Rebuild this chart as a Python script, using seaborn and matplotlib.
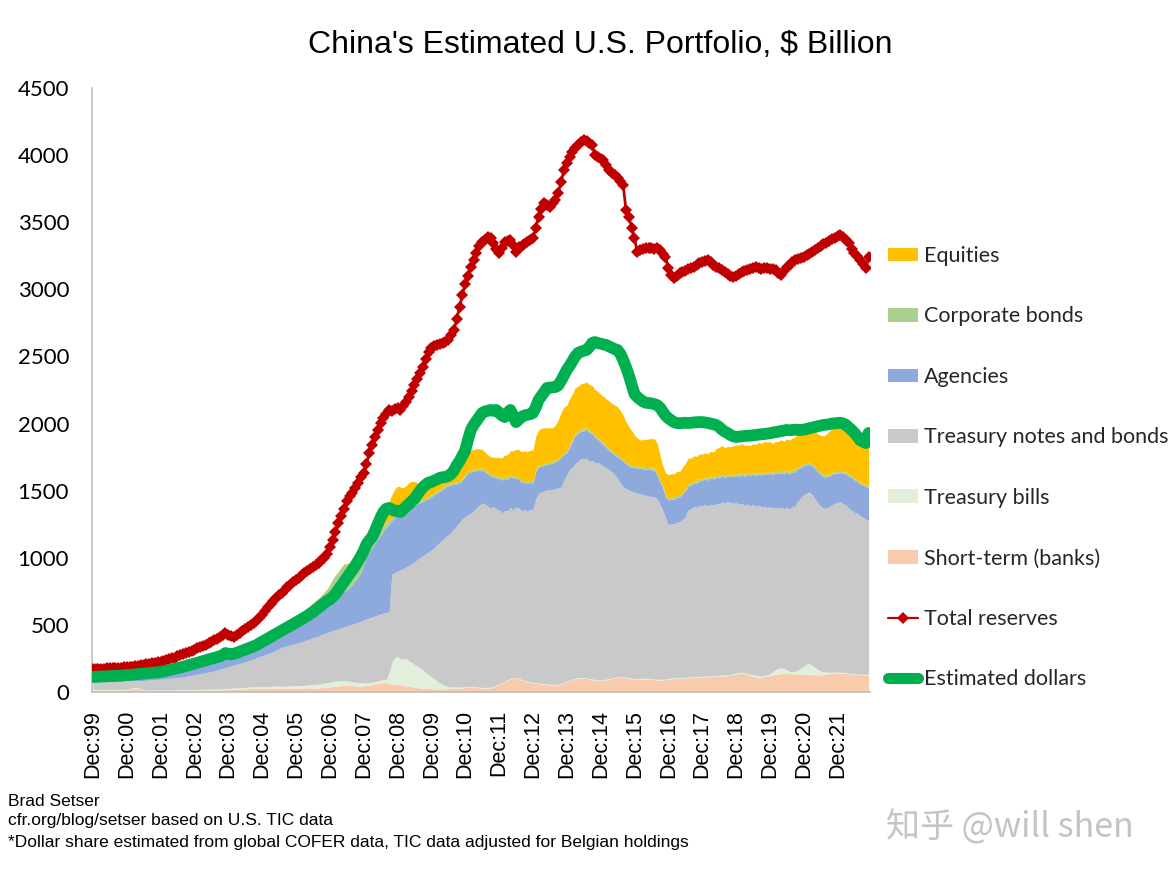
import numpy as np
import matplotlib
matplotlib.use("Agg")
import matplotlib.pyplot as plt
import seaborn as sns
from matplotlib.patches import Patch
from matplotlib.lines import Line2D

# Monthly data, Dec 1999 .. Nov 2022 ($ billion), rows of 12 months
short_term = [
    12, 12, 13, 12, 13, 14, 13, 12, 12, 13, 14, 15,
    16, 18, 24, 30, 26, 18, 14, 12, 11, 12, 12, 13,
    13, 12, 12, 13, 12, 12, 13, 13, 12, 12, 12, 13,
    13, 14, 13, 14, 15, 14, 15, 16, 15, 16, 17, 18,
    18, 19, 20, 22, 21, 23, 24, 26, 25, 27, 28, 29,
    30, 28, 27, 29, 30, 31, 30, 28, 27, 29, 30, 31,
    30, 29, 28, 30, 32, 31, 30, 29, 30, 32, 34, 36,
    38, 40, 42, 45, 48, 50, 52, 50, 48, 46, 45, 44,
    46, 48, 52, 56, 60, 64, 68, 70, 66, 62, 60, 58,
    55, 52, 48, 45, 42, 40, 36, 32, 30, 28, 26, 25,
    24, 23, 22, 22, 23, 24, 25, 26, 27, 28, 30, 32,
    34, 36, 37, 35, 33, 31, 30, 29, 30, 32, 38, 48,
    58, 67, 78, 88, 96, 102, 104, 98, 90, 82, 76, 72,
    68, 67, 64, 60, 58, 56, 54, 52, 52, 55, 60, 68,
    76, 84, 92, 98, 102, 104, 104, 100, 96, 92, 90, 89,
    88, 89, 92, 96, 100, 104, 108, 112, 110, 106, 102, 98,
    97, 96, 95, 96, 98, 96, 94, 92, 90, 89, 90, 92,
    95, 98, 100, 102, 103, 104, 105, 106, 108, 110, 111, 112,
    112, 113, 114, 115, 116, 117, 118, 119, 120, 122, 125, 130,
    134, 138, 141, 136, 130, 124, 118, 114, 112, 112, 114, 118,
    122, 126, 130, 134, 138, 141, 139, 137, 136, 135, 134, 134,
    133, 132, 130, 129, 128, 127, 128, 130, 133, 136, 138, 140,
    141, 141, 140, 138, 136, 134, 132, 130, 129, 128, 127, 127,
]

treasury_bills = [
    8, 8, 7, 7, 6, 6, 5, 5, 5, 5, 5, 5,
    5, 5, 5, 6, 6, 5, 5, 4, 4, 4, 4, 4,
    4, 4, 4, 4, 4, 4, 5, 5, 5, 5, 5, 5,
    5, 6, 6, 6, 6, 6, 6, 7, 7, 7, 8, 8,
    8, 8, 9, 9, 10, 10, 10, 11, 11, 12, 12, 12,
    12, 13, 13, 14, 14, 15, 15, 15, 16, 16, 16, 17,
    17, 18, 18, 19, 20, 22, 24, 26, 28, 30, 32, 34,
    36, 38, 40, 38, 36, 34, 32, 30, 28, 26, 25, 24,
    22, 20, 18, 18, 18, 18, 20, 22, 30, 80, 160, 200,
    210, 195, 200, 205, 190, 180, 170, 160, 150, 135, 120, 105,
    90, 75, 60, 45, 32, 22, 15, 12, 10, 8, 7, 6,
    6, 6, 5, 5, 5, 5, 5, 4, 4, 4, 4, 4,
    4, 4, 4, 4, 4, 4, 4, 4, 4, 4, 4, 4,
    4, 4, 4, 4, 4, 4, 4, 4, 4, 4, 4, 4,
    4, 4, 4, 4, 4, 4, 4, 4, 4, 4, 4, 4,
    4, 4, 4, 4, 4, 4, 4, 4, 4, 4, 4, 4,
    4, 4, 4, 5, 5, 5, 5, 5, 5, 5, 5, 5,
    5, 5, 5, 5, 5, 5, 5, 5, 5, 5, 5, 5,
    5, 5, 5, 5, 5, 6, 6, 6, 6, 6, 6, 6,
    6, 6, 6, 6, 6, 8, 10, 12, 10, 8, 8, 10,
    15, 25, 35, 45, 42, 35, 25, 18, 15, 20, 30, 45,
    60, 75, 82, 70, 55, 40, 28, 20, 15, 12, 10, 8,
    7, 6, 6, 6, 5, 5, 5, 5, 5, 5, 5, 5,
]

treasury_notes = [
    55, 56, 56, 58, 58, 58, 60, 62, 62, 62, 61, 61,
    61, 59, 54, 48, 52, 62, 67, 72, 74, 74, 76, 77,
    79, 82, 84, 85, 88, 90, 90, 92, 95, 99, 103, 106,
    110, 112, 117, 120, 123, 128, 131, 135, 142, 147, 151, 156,
    162, 167, 171, 175, 181, 185, 191, 195, 202, 207, 214, 221,
    228, 237, 246, 251, 258, 266, 277, 292, 297, 300, 304, 308,
    315, 321, 328, 331, 336, 343, 350, 355, 360, 364, 368, 372,
    376, 380, 382, 387, 394, 402, 408, 419, 429, 440, 450, 460,
    468, 476, 482, 485, 488, 492, 493, 496, 496, 454, 660, 629,
    635, 663, 672, 680, 713, 738, 764, 793, 820, 852, 884, 915,
    944, 977, 1013, 1048, 1080, 1109, 1130, 1152, 1178, 1204, 1228, 1252,
    1265, 1278, 1291, 1310, 1332, 1354, 1373, 1367, 1351, 1334, 1338, 1313,
    1294, 1262, 1270, 1258, 1275, 1252, 1268, 1270, 1258, 1272, 1265, 1284,
    1284, 1369, 1415, 1426, 1436, 1445, 1447, 1454, 1459, 1461, 1463, 1508,
    1540, 1572, 1580, 1602, 1610, 1632, 1628, 1638, 1620, 1630, 1612, 1618,
    1603, 1592, 1574, 1555, 1535, 1512, 1478, 1444, 1413, 1405, 1399, 1393,
    1389, 1383, 1379, 1371, 1362, 1359, 1356, 1356, 1345, 1306, 1261, 1203,
    1144, 1152, 1146, 1158, 1160, 1178, 1196, 1245, 1252, 1268, 1260, 1274,
    1271, 1278, 1268, 1280, 1270, 1282, 1276, 1290, 1280, 1292, 1282, 1272,
    1270, 1255, 1258, 1250, 1265, 1256, 1268, 1258, 1270, 1260, 1262, 1246,
    1242, 1220, 1212, 1190, 1196, 1190, 1212, 1210, 1230, 1232, 1262, 1268,
    1277, 1273, 1278, 1271, 1257, 1243, 1229, 1221, 1223, 1232, 1247, 1257,
    1262, 1272, 1255, 1250, 1225, 1215, 1200, 1198, 1178, 1170, 1155, 1149,
]

agencies = [
    25, 25, 26, 26, 27, 27, 28, 28, 29, 29, 30, 30,
    30, 31, 31, 32, 34, 35, 36, 36, 37, 38, 38, 38,
    39, 41, 43, 46, 48, 51, 54, 57, 60, 62, 64, 66,
    68, 70, 72, 74, 76, 78, 80, 80, 80, 80, 82, 93,
    82, 74, 74, 76, 78, 80, 81, 82, 84, 84, 84, 86,
    90, 94, 98, 102, 106, 108, 110, 109, 116, 123, 130, 136,
    142, 148, 154, 160, 164, 169, 174, 180, 185, 191, 198, 206,
    220, 242, 251, 255, 262, 266, 268, 281, 295, 318, 340, 359,
    414, 462, 488, 521, 544, 566, 589, 612, 637, 654, 395, 413,
    420, 420, 420, 420, 417, 420, 420, 415, 410, 405, 400, 397,
    395, 393, 387, 381, 375, 372, 365, 352, 333, 312, 292, 290,
    300, 312, 307, 295, 280, 264, 246, 240, 240, 240, 222, 231,
    234, 246, 240, 235, 231, 235, 218, 212, 210, 207, 207, 201,
    201, 200, 193, 192, 190, 189, 195, 196, 200, 208, 223, 190,
    160, 166, 190, 210, 210, 205, 209, 215, 212, 200, 188, 171,
    165, 155, 150, 145, 141, 145, 161, 175, 193, 185, 175, 181,
    182, 185, 187, 190, 195, 198, 201, 201, 180, 160, 171, 150,
    186, 182, 185, 187, 183, 189, 190, 180, 174, 177, 180, 184,
    187, 190, 192, 195, 196, 196, 196, 194, 192, 192, 192, 198,
    203, 208, 213, 216, 219, 223, 226, 229, 232, 236, 242, 246,
    249, 252, 255, 257, 259, 260, 260, 261, 259, 255, 240, 225,
    215, 211, 205, 215, 225, 230, 235, 234, 231, 230, 225, 223,
    220, 216, 225, 232, 240, 245, 239, 235, 237, 240, 242, 246,
]

corporate_bonds = [
    3, 3, 3, 3, 3, 3, 3, 3, 3, 3, 3, 3,
    3, 3, 4, 4, 4, 4, 4, 4, 4, 4, 5, 5,
    5, 5, 5, 5, 6, 6, 6, 6, 6, 7, 7, 7,
    7, 7, 8, 8, 8, 8, 9, 9, 9, 9, 10, 10,
    10, 10, 11, 11, 12, 12, 12, 13, 13, 14, 14, 15,
    15, 17, 19, 21, 23, 25, 28, 31, 34, 38, 42, 46,
    50, 55, 60, 66, 72, 78, 84, 90, 96, 102, 110, 118,
    128, 140, 155, 170, 185, 200, 195, 180, 160, 140, 120, 100,
    90, 80, 70, 60, 50, 45, 40, 35, 30, 28, 26, 25,
    24, 23, 22, 21, 20, 20, 19, 19, 18, 18, 17, 17,
    16, 16, 16, 15, 15, 15, 15, 14, 14, 14, 14, 14,
    13, 14, 13, 13, 12, 13, 14, 13, 13, 12, 13, 13,
    13, 14, 13, 13, 12, 13, 14, 13, 13, 12, 13, 13,
    13, 14, 13, 13, 12, 13, 14, 13, 13, 12, 13, 13,
    13, 14, 13, 13, 12, 13, 14, 13, 13, 12, 13, 13,
    13, 14, 13, 13, 12, 13, 14, 13, 13, 12, 13, 13,
    13, 14, 13, 13, 12, 13, 14, 13, 13, 12, 13, 13,
    13, 14, 13, 13, 12, 13, 14, 13, 13, 12, 13, 13,
    13, 14, 13, 13, 12, 13, 14, 13, 13, 12, 13, 13,
    13, 14, 13, 13, 12, 13, 14, 13, 13, 12, 13, 13,
    13, 14, 13, 13, 12, 13, 14, 13, 13, 12, 13, 13,
    13, 14, 13, 13, 12, 13, 14, 13, 13, 12, 13, 13,
    13, 14, 13, 13, 12, 13, 14, 13, 13, 12, 13, 13,
]

equities = [
    1, 1, 1, 1, 1, 1, 1, 1, 1, 1, 1, 1,
    1, 1, 1, 1, 1, 1, 1, 1, 1, 1, 1, 1,
    1, 1, 1, 1, 1, 1, 1, 1, 1, 1, 1, 1,
    1, 1, 1, 1, 1, 1, 2, 2, 2, 2, 2, 2,
    2, 2, 2, 2, 2, 2, 2, 2, 2, 2, 2, 2,
    2, 2, 2, 2, 3, 3, 3, 3, 3, 3, 3, 3,
    3, 3, 3, 3, 3, 3, 3, 3, 3, 3, 3, 3,
    3, 3, 3, 3, 4, 4, 4, 4, 4, 4, 4, 4,
    4, 5, 6, 8, 12, 20, 40, 70, 110, 140, 170, 185,
    190, 175, 160, 165, 178, 172, 160, 140, 120, 110, 100, 95,
    92, 90, 90, 92, 95, 98, 100, 105, 110, 115, 120, 125,
    130, 140, 145, 150, 150, 145, 140, 135, 130, 130, 135, 140,
    145, 150, 160, 170, 180, 190, 200, 210, 215, 220, 225, 228,
    230, 250, 262, 270, 268, 262, 255, 250, 262, 290, 320, 340,
    342, 345, 342, 340, 340, 338, 340, 342, 344, 345, 346, 345,
    345, 348, 352, 355, 358, 360, 360, 350, 330, 300, 285, 260,
    230, 210, 200, 205, 210, 215, 218, 220, 222, 200, 150, 170,
    175, 175, 176, 178, 180, 185, 190, 193, 190, 188, 186, 185,
    184, 183, 183, 185, 190, 200, 212, 215, 210, 205, 210, 215,
    215, 218, 220, 215, 210, 212, 215, 218, 222, 225, 228, 230,
    225, 215, 220, 228, 232, 230, 235, 238, 240, 245, 250, 255,
    255, 250, 248, 255, 262, 270, 280, 290, 305, 320, 330, 335,
    340, 345, 335, 320, 305, 290, 285, 290, 295, 290, 285, 295,
]

total_reserves = [
    172, 172, 173, 174, 175, 176, 177, 178, 179, 180, 181, 183,
    184, 186, 189, 192, 196, 199, 203, 207, 210, 213, 217, 220,
    224, 230, 236, 243, 250, 257, 265, 273, 281, 290, 298, 306,
    315, 325, 334, 344, 352, 362, 372, 384, 396, 408, 425, 440,
    428, 415, 410, 425, 440, 455, 470, 483, 497, 514, 530, 548,
    570, 600, 633, 655, 680, 700, 720, 740, 760, 782, 800, 818,
    836, 852, 868, 884, 900, 915, 930, 946, 962, 980, 1000, 1030,
    1080, 1130, 1190, 1259, 1310, 1365, 1420, 1460, 1483, 1520, 1560, 1600,
    1632, 1700, 1781, 1840, 1900, 1950, 2004, 2040, 2070, 2100, 2090, 2110,
    2116, 2100, 2130, 2160, 2198, 2240, 2290, 2330, 2377, 2420, 2480, 2530,
    2560, 2575, 2585, 2590, 2600, 2610, 2622, 2660, 2697, 2780, 2868, 2960,
    3040, 3100, 3166, 3220, 3270, 3320, 3352, 3370, 3390, 3382, 3345, 3300,
    3270, 3310, 3352, 3360, 3367, 3330, 3278, 3315, 3320, 3335, 3352, 3370,
    3380, 3460, 3540, 3600, 3643, 3630, 3613, 3640, 3665, 3720, 3800, 3889,
    3940, 3986, 4020, 4050, 4075, 4095, 4112, 4105, 4090, 4075, 4000, 3985,
    3970, 3963, 3930, 3889, 3870, 3852, 3830, 3810, 3777, 3591, 3539, 3460,
    3382, 3278, 3290, 3300, 3308, 3310, 3305, 3300, 3308, 3290, 3265, 3241,
    3159, 3110, 3084, 3100, 3122, 3130, 3140, 3150, 3159, 3170, 3185, 3196,
    3205, 3212, 3218, 3200, 3181, 3170, 3160, 3144, 3130, 3115, 3100, 3092,
    3100, 3115, 3129, 3135, 3145, 3150, 3160, 3166, 3160, 3155, 3162, 3159,
    3150, 3148, 3144, 3120, 3107, 3140, 3165, 3185, 3204, 3215, 3225, 3235,
    3241, 3255, 3265, 3278, 3290, 3305, 3320, 3335, 3345, 3360, 3372, 3385,
    3395, 3405, 3390, 3370, 3345, 3300, 3270, 3245, 3218, 3190, 3160, 3240,
]

estimated_dollars = [
    112, 113, 114, 115, 116, 117, 118, 119, 120, 121, 122, 124,
    126, 127, 129, 131, 133, 135, 137, 139, 141, 143, 145, 147,
    149, 153, 158, 163, 168, 173, 178, 183, 188, 194, 200, 206,
    212, 218, 224, 230, 236, 242, 248, 254, 260, 266, 274, 290,
    285, 280, 285, 292, 300, 308, 316, 324, 332, 341, 350, 362,
    374, 386, 398, 410, 422, 434, 446, 458, 470, 482, 494, 506,
    518, 530, 542, 555, 568, 582, 596, 612, 628, 645, 662, 678,
    690, 708, 730, 760, 790, 820, 850, 880, 909, 940, 975, 1010,
    1050, 1100, 1130, 1155, 1200, 1250, 1300, 1340, 1365, 1371, 1360, 1350,
    1350, 1341, 1360, 1380, 1400, 1420, 1440, 1470, 1500, 1525, 1545, 1560,
    1565, 1575, 1585, 1595, 1600, 1602, 1610, 1625, 1650, 1690, 1720, 1760,
    1800, 1880, 1952, 1990, 2020, 2050, 2079, 2090, 2095, 2101, 2095, 2101,
    2080, 2060, 2049, 2080, 2101, 2060, 2011, 2030, 2049, 2060, 2065, 2070,
    2079, 2120, 2175, 2205, 2235, 2265, 2268, 2270, 2272, 2285, 2320, 2360,
    2399, 2430, 2465, 2500, 2526, 2535, 2542, 2548, 2570, 2600, 2607, 2600,
    2595, 2590, 2585, 2575, 2565, 2555, 2548, 2520, 2473, 2420, 2360, 2290,
    2220, 2198, 2180, 2165, 2155, 2153, 2150, 2145, 2138, 2120, 2090, 2060,
    2040, 2025, 2010, 2004, 2002, 2004, 2006, 2004, 2006, 2008, 2010, 2011,
    2011, 2008, 2004, 2000, 1995, 1989, 1975, 1955, 1940, 1930, 1915, 1905,
    1900, 1902, 1905, 1907, 1909, 1910, 1912, 1915, 1918, 1920, 1922, 1925,
    1928, 1932, 1936, 1940, 1944, 1948, 1952, 1950, 1952, 1955, 1952, 1952,
    1955, 1960, 1965, 1970, 1975, 1980, 1985, 1989, 1992, 1995, 2000, 2002,
    2004, 2006, 2000, 1990, 1970, 1952, 1930, 1905, 1877, 1865, 1855, 1930,
]

tick_labels = ["Dec:99", "Dec:00", "Dec:01", "Dec:02", "Dec:03", "Dec:04",
               "Dec:05", "Dec:06", "Dec:07", "Dec:08", "Dec:09", "Dec:10",
               "Dec:11", "Dec:12", "Dec:13", "Dec:14", "Dec:15", "Dec:16",
               "Dec:17", "Dec:18", "Dec:19", "Dec:20", "Dec:21"]

area_labels = ["Short-term (banks)", "Treasury bills", "Treasury notes and bonds",
               "Agencies", "Corporate bonds", "Equities"]
area_colors = ["#F8CBAD", "#E2EFDA", "#C9C9C9", "#8EA9DB", "#A9D08E", "#FFC000"]

sns.set_theme(style="white")
plt.rcParams["font.family"] = ["Liberation Sans", "DejaVu Sans"]

W, H = 1170, 873
fig = plt.figure(figsize=(W / 100, H / 100), dpi=100)
ax = fig.add_axes([92 / W, 1 - 692 / H, 778 / W, 604 / H])

x = np.arange(len(short_term))
ax.stackplot(x, short_term, treasury_bills, treasury_notes, agencies,
             corporate_bonds, equities, colors=area_colors, linewidth=0,
             zorder=1)

sns.lineplot(x=x, y=total_reserves, ax=ax, color="#C00000", linewidth=2.0,
             marker="D", markersize=6.5, markeredgewidth=0, legend=False,
             zorder=4)
sns.lineplot(x=x, y=estimated_dollars, ax=ax, color="#00B050", linewidth=8.5,
             solid_capstyle="round", solid_joinstyle="round", legend=False,
             zorder=5)

ax.set_xlim(-0.3, 275.5)
ax.set_ylim(0, 4500)
ax.set_yticks(np.arange(0, 4501, 500))
ax.set_yticklabels([str(v) for v in range(0, 4501, 500)],
                   fontfamily="Lato", fontsize=16, color="#000000")
ax.set_xticks(np.arange(0, len(tick_labels) * 12, 12))
ax.set_xticklabels(tick_labels, rotation=90, fontsize=15.5,
                   fontfamily="Liberation Sans", color="#000000")
ax.tick_params(axis="y", length=0, pad=16.5)
ax.tick_params(axis="x", length=0, pad=13)
ax.set_xlabel("")
ax.set_ylabel("")
ax.grid(False)
for side in ["top", "right"]:
    ax.spines[side].set_visible(False)
for side in ["left", "bottom"]:
    ax.spines[side].set_color("#BFBFBF")
    ax.spines[side].set_linewidth(1.2)

fig.text(600 / W, 1 - 45 / H, "China's Estimated U.S. Portfolio, $ Billion",
         ha="center", va="center", fontsize=23, fontfamily="Liberation Sans",
         color="#000000")

handles = [Patch(facecolor=area_colors[i], edgecolor="none") for i in range(5, -1, -1)]
labels = [area_labels[i] for i in range(5, -1, -1)]
handles.append(Line2D([], [], color="#C00000", linewidth=1.6, marker="D",
                      markersize=6, markeredgewidth=0))
labels.append("Total reserves")
handles.append(Line2D([], [], color="#00B050", linewidth=8,
                      solid_capstyle="round"))
labels.append("Estimated dollars")

leg = fig.legend(handles, labels, loc="upper left",
                 bbox_to_anchor=(888 / W, 1 - 246 / H), frameon=False,
                 prop={"family": "Lato", "size": 15.5}, handlelength=1.4,
                 handleheight=0.6, handletextpad=0.25, labelspacing=1.88,
                 borderaxespad=0, borderpad=0, numpoints=1)

foot_font = ["Liberation Sans Narrow", "Liberation Sans", "DejaVu Sans"]
fig.text(8 / W, 1 - 801 / H, "Brad Setser", ha="left", va="center",
         fontsize=12.5, fontfamily=foot_font, color="#000000")
fig.text(8 / W, 1 - 821 / H, "cfr.org/blog/setser based on U.S. TIC data",
         ha="left", va="center", fontsize=12.5, fontfamily=foot_font,
         color="#000000")
fig.text(8 / W, 1 - 842 / H,
         "*Dollar share estimated from global COFER data, TIC data adjusted for Belgian holdings",
         ha="left", va="center", fontsize=12.5, fontfamily=foot_font,
         color="#000000")

fig.text(1010 / W, 1 - 828 / H, "知乎 @will shen", ha="center", va="center",
         fontsize=24.5, color="#C4C4C4",
         fontfamily=["Noto Sans CJK SC", "DejaVu Sans"])

fig.savefig("out.png", dpi=100, facecolor="white")
